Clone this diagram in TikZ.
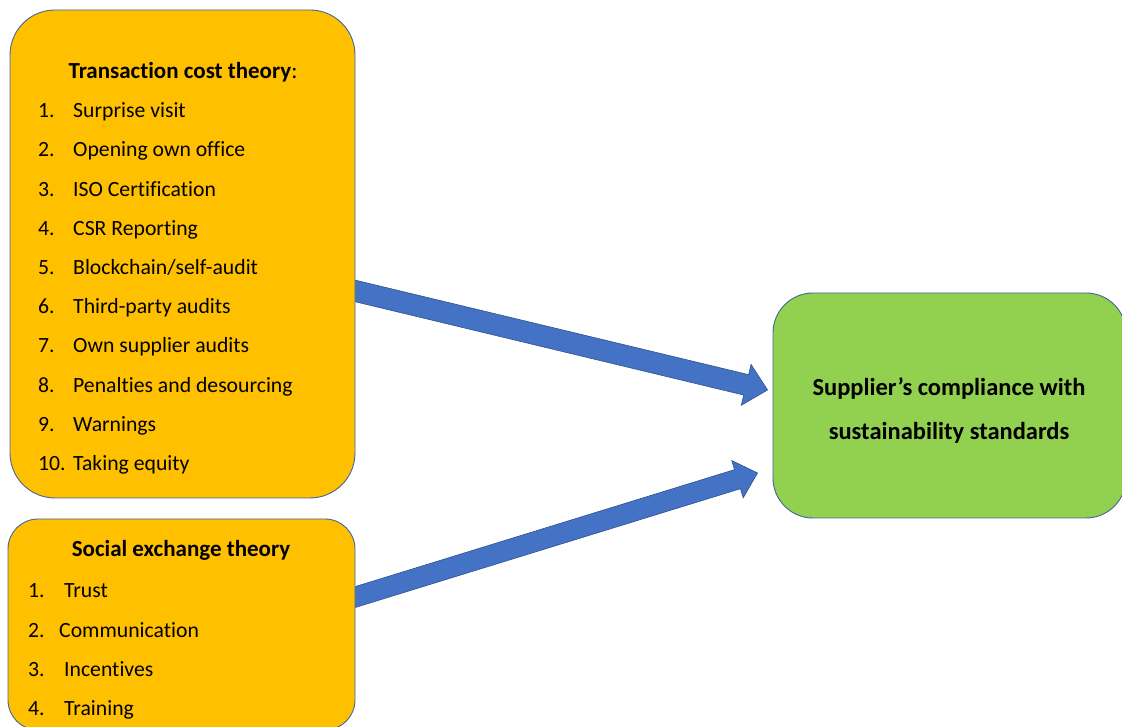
\documentclass[tikz,border=0pt]{standalone}
\usepackage{fontspec}
\setmainfont[Ligatures={NoCommon}]{Carlito}
\usetikzlibrary{calc,backgrounds}
\definecolor{boxorange}{HTML}{FFC000}
\definecolor{boxgreen}{HTML}{92D050}
\definecolor{boxline}{HTML}{41659F}
\definecolor{arrowblue}{HTML}{4472C4}
\definecolor{arrowline}{HTML}{2F528F}
\begin{document}
\begin{tikzpicture}[x=1pt,y=1pt,
  theorybox/.style={draw=boxline,line width=0.9pt,fill=boxorange,inner sep=0pt},
  resultbox/.style={draw=boxline,line width=0.9pt,fill=boxgreen,inner sep=0pt,rounded corners=40pt},
  txt/.style={inner sep=0pt,anchor=base west,font=\fontsize{21.7}{26}\selectfont},
  ttl/.style={inner sep=0pt,anchor=base,font=\fontsize{23}{28}\selectfont\bfseries},
  big/.style={inner sep=0pt,anchor=base,font=\fontsize{24.5}{29}\selectfont\bfseries},
  blockarrow/.style={fill=arrowblue,draw=arrowline,line width=0.6pt,line join=miter}]
\useasboundingbox (0,0) rectangle (1122,727);
% boxes
\node[theorybox,rounded corners=45pt,minimum width=345pt,minimum height=488pt] (tct) at (182.5,473) {};
\node[theorybox,rounded corners=30pt,minimum width=347pt,minimum height=211pt] (set) at (181.5,102.5) {};
\node[resultbox,minimum width=353pt,minimum height=225pt] (comp) at (949.5,321.5) {};
% transaction cost theory
\node[ttl] (tctT) at (183,648) {Transaction cost theory\textmd{:}};
\foreach \n/\t/\y in {1/Surprise visit/609, 2/Opening own office/570, 3/ISO Certification/530,
  4/CSR Reporting/491, 5/Blockchain\slash self-audit/452, 6/Third-party audits/413,
  7/Own supplier audits/374, 8/Penalties and desourcing/334, 9/Warnings/295, 10/Taking equity/256}{
  \node[txt] (tn\n) at (38,\y) {\n.};
  \node[txt] (ti\n) at (73,\y) {\t};
}
% social exchange theory
\node[ttl] (setT) at (181,170) {Social exchange theory};
\node[txt] (sn1) at (28,129) {1.}; \node[txt] (si1) at (64,129) {Trust};
\node[txt] (sn2) at (28,89) {2.};  \node[txt] (si2) at (59,89) {Communication};
\node[txt] (sn3) at (28,50) {3.};  \node[txt] (si3) at (64,50) {Incentives};
\node[txt] (sn4) at (28,11) {4.};  \node[txt] (si4) at (64,11) {Training};
% result
\node[big] (c1) at (949,331) {Supplier’s compliance with};
\node[big] (c2) at (949,287) {sustainability standards};
% arrows
\coordinate (a1s) at ($(tct.east)+(-25,-31)$);
\coordinate (a1e) at ($(comp.west)+(-5,15.5)$);
\coordinate (a2s) at ($(set.east)+(-25,19.8)$);
\coordinate (a2e) at ($(comp.west)+(-15,-67.5)$);
\begin{scope}[on background layer]
\foreach \s/\e/\h/\H/\L in {a1s/a1e/10.5/21/22, a2s/a2e/10/19.5/21}{
  \coordinate (hb) at ($(\e)!\L pt!(\s)$);
  \draw[blockarrow] ($(\s)!\h pt!90:(\e)$) -- ($(hb)!\h pt!-90:(\s)$) -- ($(hb)!\H pt!-90:(\s)$)
    -- (\e) -- ($(hb)!\H pt!90:(\s)$) -- ($(hb)!\h pt!90:(\s)$) -- ($(\s)!\h pt!-90:(\e)$) -- cycle;
}
\end{scope}
\end{tikzpicture}
\end{document}
